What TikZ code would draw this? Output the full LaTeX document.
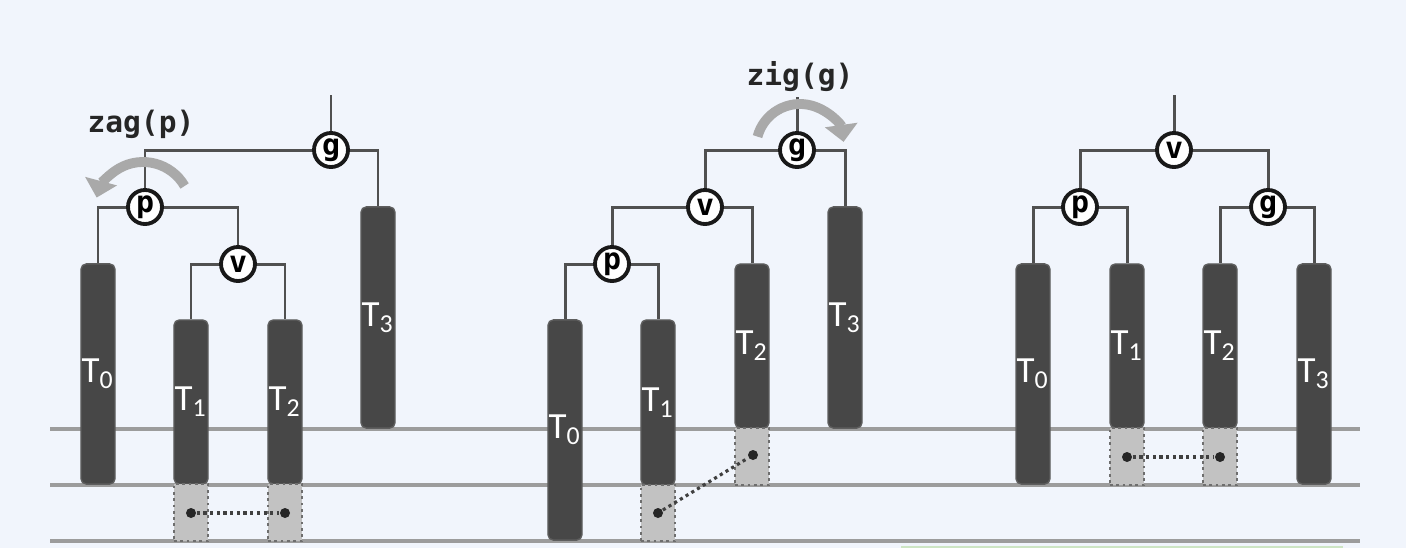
\documentclass[tikz,border=0pt]{standalone}
\usepackage{fontspec}
\setmainfont{Carlito}
\newfontfamily\monob{DejaVu Sans Mono}
\usetikzlibrary{arrows.meta}
\definecolor{bg}{HTML}{F1F5FC}
\definecolor{bardark}{HTML}{474747}
\definecolor{baredge}{HTML}{5E5E5E}
\definecolor{edgec}{HTML}{505050}
\definecolor{linec}{HTML}{9C9C9C}
\definecolor{boxc}{HTML}{C2C2C2}
\definecolor{boxedge}{HTML}{6E6E6E}
\definecolor{arcc}{HTML}{A9A9A9}
\definecolor{greenl}{HTML}{CDE5C4}
\begin{document}
\begin{tikzpicture}[x=0.01cm,y=-0.01cm,
 tbar/.style={fill=bardark, draw=baredge, line width=0.4pt, rounded corners=1.5pt, minimum width=0.34cm, inner sep=0, text=white, font=\fontsize{10.5}{12}\selectfont},
 gbox/.style={fill=boxc, draw=boxedge, densely dotted, line width=0.8pt, minimum width=0.34cm, inner sep=0},
 tn/.style={circle, draw=black!90, fill=white, line width=1.1pt, minimum size=0.34cm, inner sep=0, font=\monob\bfseries\fontsize{8.5}{10}\selectfont},
 edge/.style={draw=edgec, line width=0.85pt},
 hline/.style={draw=linec, line width=0.9pt},
 dotc/.style={circle, fill=black!85, inner sep=0, minimum size=0.1cm},
 link/.style={draw=black!75, densely dotted, line width=0.9pt},
 rot/.style={draw=arcc, line width=2.8pt, -{Triangle[length=0.17cm,width=0.32cm]}},
 op/.style={font=\monob\bfseries\fontsize{8.4}{10}\selectfont, text=black!85}
]
\useasboundingbox[fill=bg] (0,0) rectangle (1406,548);

% level lines
\draw[hline] (50,429) -- (1360,429);
\draw[hline] (50,485) -- (1360,485);
\draw[hline] (50,541) -- (1360,541);
\draw[greenl, line width=0.6pt] (901,547) -- (1343,547);

%%%%%%%% Panel 1 (zag) %%%%%%%%
\node[tbar, minimum height=2.20cm] (a0) at (98,374) {T\textsubscript{0}};
\node[tbar, minimum height=1.64cm] (a1) at (191,402) {T\textsubscript{1}};
\node[tbar, minimum height=1.64cm] (a2) at (285,402) {T\textsubscript{2}};
\node[tbar, minimum height=2.21cm] (a3) at (378,317.5) {T\textsubscript{3}};
\node[gbox, minimum height=0.57cm] (ab1) at (191,512.5) {};
\node[gbox, minimum height=0.57cm] (ab2) at (285,512.5) {};
\node[dotc] (ad1) at (191,513) {};
\node[dotc] (ad2) at (285,513) {};
\draw[link] (ad1) -- (ad2);

\node[tn] (ag) at (331,150) {g};
\node[tn] (ap) at (145,207) {p};
\node[tn] (av) at (238,264) {v};
\coordinate (atop) at (331,95);
\draw[edge] (atop) -- (ag);
\draw[edge] (ag) -| (ap);
\draw[edge] (ag) -| (a3.north);
\draw[edge] (ap) -| (a0.north);
\draw[edge] (ap) -| (av);
\draw[edge] (av) -| (a1.north);
\draw[edge] (av) -| (a2.north);
\draw[rot] (184.6,186) arc (-30:-165:48);
\node[op] (zag) at (141,124) {zag(p)};

%%%%%%%% Panel 2 (zig) %%%%%%%%
\node[tbar, minimum height=2.20cm] (b0) at (565,430) {T\textsubscript{0}};
\node[tbar, minimum height=1.65cm] (b1) at (658,402.5) {T\textsubscript{1}};
\node[tbar, minimum height=1.64cm] (b2) at (752,346) {T\textsubscript{2}};
\node[tbar, minimum height=2.21cm] (b3) at (845,317.5) {T\textsubscript{3}};
\node[gbox, minimum height=0.56cm] (bb1) at (658,513) {};
\node[gbox, minimum height=0.57cm] (bb2) at (752,456.5) {};
\node[dotc] (bd1) at (658,513) {};
\node[dotc] (bd2) at (753,455) {};
\draw[link] (bd1) -- (bd2);

\node[tn] (bg) at (797,150) {g};
\node[tn] (bv) at (705,207) {v};
\node[tn] (bp) at (612,264) {p};
\coordinate (btop) at (797,97);
\draw[edge] (btop) -- (bg);
\draw[edge] (bg) -| (bv);
\draw[edge] (bg) -| (b3.north);
\draw[edge] (bv) -| (bp);
\draw[edge] (bv) -| (b2.north);
\draw[edge] (bp) -| (b0.north);
\draw[edge] (bp) -| (b1.north);
\draw[rot] (757.5,136.6) arc (-165:-8:44);
\node[op] (zig) at (800,77) {zig(g)};

%%%%%%%% Panel 3 (result) %%%%%%%%
\node[tbar, minimum height=2.20cm] (c0) at (1033,374) {T\textsubscript{0}};
\node[tbar, minimum height=1.64cm] (c1) at (1127,346) {T\textsubscript{1}};
\node[tbar, minimum height=1.64cm] (c2) at (1220,346) {T\textsubscript{2}};
\node[tbar, minimum height=2.20cm] (c3) at (1314,374) {T\textsubscript{3}};
\node[gbox, minimum height=0.57cm] (cb1) at (1127,456.5) {};
\node[gbox, minimum height=0.57cm] (cb2) at (1220,456.5) {};
\node[dotc] (cd1) at (1127,457) {};
\node[dotc] (cd2) at (1220,457) {};
\draw[link] (cd1) -- (cd2);

\node[tn] (cv) at (1174,150) {v};
\node[tn] (cp) at (1080,207) {p};
\node[tn] (cg) at (1268,207) {g};
\coordinate (ctop) at (1174,95);
\draw[edge] (ctop) -- (cv);
\draw[edge] (cv) -| (cp);
\draw[edge] (cv) -| (cg);
\draw[edge] (cp) -| (c0.north);
\draw[edge] (cp) -| (c1.north);
\draw[edge] (cg) -| (c2.north);
\draw[edge] (cg) -| (c3.north);
\end{tikzpicture}
\end{document}
